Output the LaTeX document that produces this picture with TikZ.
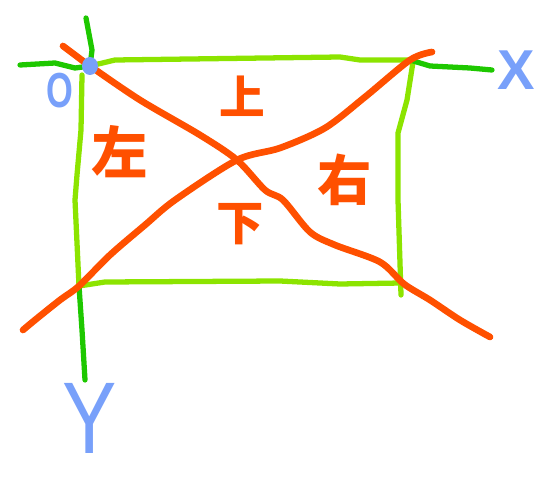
\documentclass[tikz,border=0pt]{standalone}
\usepackage{fontspec}
\newfontfamily\cjk{Noto Sans CJK SC}
\newfontfamily\hand{Liberation Sans}
\usepackage{tikz}
\usetikzlibrary{positioning}
\definecolor{skorange}{RGB}{255,80,0}
\definecolor{sklime}{RGB}{140,228,0}
\definecolor{skgreen}{RGB}{30,200,0}
\definecolor{skblue}{RGB}{120,160,250}
\tikzstyle{frame} = [line width=3pt,color=sklime,line cap=round,line join=round]
\tikzstyle{axis} = [line width=3pt,color=skgreen,line cap=round,line join=round]
\tikzstyle{cross} = [line width=3.8pt,color=skorange,line cap=round,line join=round]
\tikzstyle{region} = [color=skorange,inner sep=0pt]
\tikzstyle{axlabel} = [color=skblue,inner sep=0pt]

\begin{document}
\begin{tikzpicture}[x=0.02cm, y=-0.02cm]
\useasboundingbox (0,0) rectangle (557,479);
% Corners of the box
\coordinate (tl) at (90,66);
\coordinate (tr) at (410,60);
\coordinate (bl) at (79,286);
\coordinate (br) at (401,283);

% Box
\draw[frame] (tl) -- (115,60) -- (340,57) -- (360,60) -- (tr);
\draw[frame] (413,62) -- (407,100) -- (398,133) -- (398,200) -- (401,295);
\draw[frame] (bl) -- (105,282) -- (280,281) -- (340,284) -- (br);
\draw[frame] (82,75) -- (81,130) -- (77,175) -- (75,200) -- (bl);

% Axes
\draw[axis] (20,65) -- (55,63) -- (75,68) -- (tl);
\draw[axis] (86,18) -- (92,50) -- (tl);
\draw[axis] (tr) -- (430,66) -- (470,68) -- (492,70);
\draw[axis] (bl) -- (82,330) -- (85,380);

% Diagonals
\draw[cross] plot[smooth, tension=0.5] coordinates {(63,46) (75,55) (tl) (140,100) (200,135) (237,160) (265,190) (283,200) (310,232) (335,245) (380,262) (404,284) (430,300) (460,320) (490,337)};
\draw[cross] plot[smooth, tension=0.5] coordinates {(23,330) (35,320) (60,300) (bl) (110,255) (145,225) (175,200) (237,160) (280,148) (325,128) (365,97) (tr) (432,52)};

% Origin
\fill[skblue] (tl) ellipse (8 and 9);

% Labels
\node[axlabel, font=\hand\bfseries\fontsize{28}{28}\selectfont, xscale=0.7] (o) at (60,91) {O};
\node[axlabel, font=\hand\bfseries\fontsize{32}{32}\selectfont] (xl) at (516,70) {X};
\node[axlabel, font=\hand\fontsize{58}{58}\selectfont, xscale=0.8] (yl) at (90,418) {Y};

\node[region, font=\cjk\bfseries\fontsize{26}{26}\selectfont] (up) at (242,96) {上};
\node[region, font=\cjk\bfseries\fontsize{32}{32}\selectfont] (left) at (120,152) {左};
\node[region, font=\cjk\bfseries\fontsize{31}{31}\selectfont] (right) at (345,180) {右};
\node[region, font=\cjk\bfseries\fontsize{27}{27}\selectfont] (down) at (240,224) {下};
\end{tikzpicture}
\end{document}
